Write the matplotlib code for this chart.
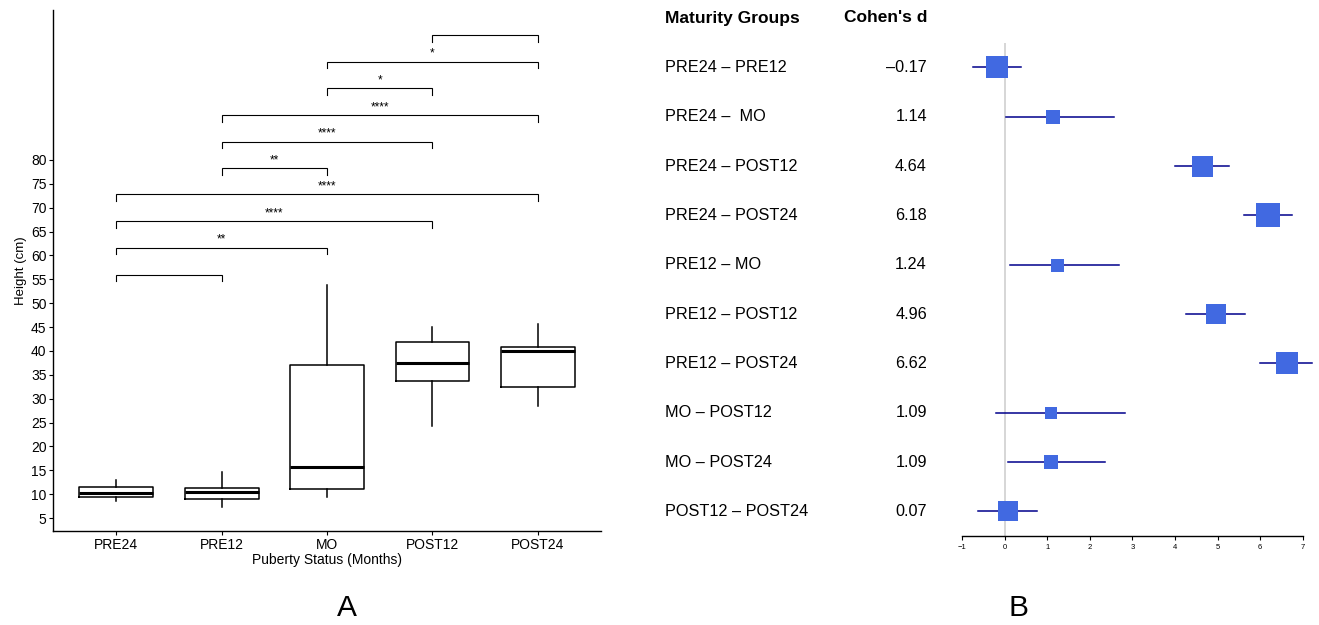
import matplotlib
matplotlib.use("Agg")
import matplotlib.pyplot as plt
from matplotlib.transforms import blended_transform_factory

plt.rcParams['font.family'] = ['Liberation Sans', 'DejaVu Sans']

# ---------------- Panel A data ----------------
groups = ["PRE24", "PRE12", "MO", "POST12", "POST24"]
whislo = [8.6, 7.4, 9.3, 24.3, 28.5]
q1 = [9.5, 9.0, 11.0, 33.8, 32.5]
med = [10.2, 10.45, 15.6, 37.5, 40.0]
q3 = [11.5, 11.35, 37.1, 41.9, 40.9]
whishi = [13.0, 14.6, 53.7, 45.0, 45.7]

cmp_a = ["PRE24", "PRE24", "PRE24", "PRE24", "PRE12", "PRE12", "PRE12", "MO", "MO", "POST12"]
cmp_b = ["PRE12", "MO", "POST12", "POST24", "MO", "POST12", "POST24", "POST12", "POST24", "POST24"]
cmp_y = [56.0, 61.6, 67.2, 72.8, 78.3, 83.8, 89.4, 95.0, 100.6, 106.2]
cmp_label = ["", "**", "****", "****", "**", "****", "****", "*", "*", ""]

y_ticks = list(range(5, 85, 5))

# ---------------- Panel B data ----------------
pairs = ["PRE24 \u2013 PRE12", "PRE24 \u2013  MO", "PRE24 \u2013 POST12", "PRE24 \u2013 POST24",
         "PRE12 \u2013 MO", "PRE12 \u2013 POST12", "PRE12 \u2013 POST24", "MO \u2013 POST12",
         "MO \u2013 POST24", "POST12 \u2013 POST24"]
cohen_d = [-0.17, 1.14, 4.64, 6.18, 1.24, 4.96, 6.62, 1.09, 1.09, 0.07]
ci_lo = [-0.75, 0.03, 3.99, 5.62, 0.13, 4.27, 6.00, -0.21, 0.08, -0.62]
ci_hi = [0.39, 2.56, 5.27, 6.74, 2.69, 5.64, 7.22, 2.82, 2.35, 0.75]
box_weight = [22.7, 13.3, 21.0, 23.3, 13.0, 20.0, 21.7, 12.0, 14.0, 20.0]
forest_ticks = [-1, 0, 1, 2, 3, 4, 5, 6, 7]

W, H = 1319, 625
fig = plt.figure(figsize=(W / 100, H / 100), dpi=100)

def fx(px):
    return px / W

def fy(py):
    return 1 - py / H

# ---------------- Panel A ----------------
ax1 = fig.add_axes([fx(53), fy(531), fx(601) - fx(53), fy(10) - fy(531)])
stats = []
for i, g in enumerate(groups):
    stats.append(dict(label=g, whislo=whislo[i], q1=q1[i], med=med[i], q3=q3[i],
                      whishi=whishi[i], fliers=[]))
pos = list(range(1, len(groups) + 1))
ax1.bxp(stats, positions=pos, widths=0.7, showcaps=False, patch_artist=False,
        boxprops=dict(color='black', linewidth=1.1),
        whiskerprops=dict(color='black', linewidth=1.1),
        medianprops=dict(color='black', linewidth=2.2))
ax1.set_xlim(0.4, 5.6)
ax1.set_ylim(2.28, 111.4)
ax1.set_yticks(y_ticks)
ax1.set_xticks(pos)
ax1.set_xticklabels(groups)
ax1.tick_params(axis='both', labelsize=10, length=3.2, width=0.8, pad=1.5, colors='black')
for s in ['top', 'right']:
    ax1.spines[s].set_visible(False)
for s in ['left', 'bottom']:
    ax1.spines[s].set_linewidth(1.0)
ax1.set_ylabel("Height (cm)", fontsize=9.5, labelpad=3)
ax1.set_xlabel("Puberty Status (Months)", fontsize=10, labelpad=1)

tip = 1.4
for a, b, y, lab in zip(cmp_a, cmp_b, cmp_y, cmp_label):
    xa = groups.index(a) + 1
    xb = groups.index(b) + 1
    ax1.plot([xa, xa, xb, xb], [y - tip, y, y, y - tip], color='black', lw=0.8,
             solid_joinstyle='miter')
    if lab:
        ax1.text((xa + xb) / 2, y + 1.05, lab, ha='center', va='baseline', fontsize=8.5)

# ---------------- Panel B ----------------
ax2 = fig.add_axes([fx(962), fy(536), fx(1302.7) - fx(962), fy(42.7) - fy(536)])
n = len(pairs)
ax2.set_xlim(-1, 7)
ax2.set_ylim(n - 0.5, -0.5)
ax2.axvline(0, color='#d3d3d3', lw=1.3, zorder=0)
for i in range(n):
    ax2.plot([ci_lo[i], ci_hi[i]], [i, i], color='#00008B', lw=1.1, clip_on=False, zorder=2)
    ax2.plot([cohen_d[i]], [i], marker='s', linestyle='none', color='#4169E1',
             markersize=box_weight[i] * 0.72, markeredgewidth=0, clip_on=False, zorder=3)
for s in ['top', 'right', 'left']:
    ax2.spines[s].set_visible(False)
ax2.spines['bottom'].set_linewidth(1.0)
ax2.set_yticks([])
ax2.set_xticks(forest_ticks)
ax2.tick_params(axis='x', labelsize=5.5, length=3, width=0.8, pad=2.5)

tr = blended_transform_factory(fig.transFigure, ax2.transData)
for i in range(n):
    ax2.text(fx(665), i, pairs[i], transform=tr, ha='left', va='center', fontsize=11.7)
    ax2.text(fx(927), i, f"{cohen_d[i]:.2f}".replace('-', '\u2013'), transform=tr,
             ha='right', va='center', fontsize=11.7)
fig.text(fx(665), fy(18), "Maturity Groups", ha='left', va='center', fontsize=12.5,
         fontweight='bold')
fig.text(fx(927), fy(18), "Cohen's d", ha='right', va='center', fontsize=12.5,
         fontweight='bold')

fig.text(fx(347), fy(608), "A", ha='center', va='center', fontsize=21.5)
fig.text(fx(1018), fy(608), "B", ha='center', va='center', fontsize=21.5)

fig.savefig("out.png", dpi=100)
